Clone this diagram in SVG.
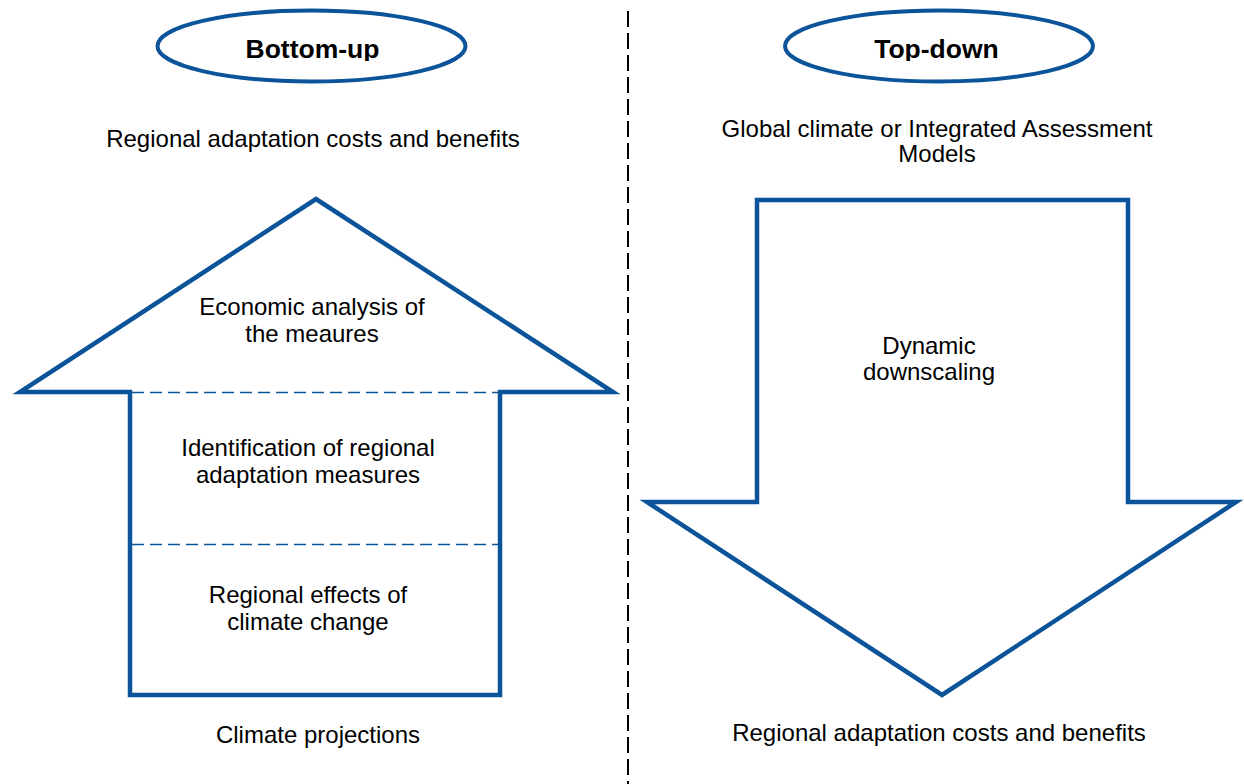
<svg xmlns="http://www.w3.org/2000/svg" width="1244" height="784" viewBox="0 0 1244 784">
  <style>
    .shape { fill: none; stroke: #0b5499; stroke-width: 4.5; stroke-linejoin: miter; }
    .oval { fill: none; stroke: #0b5499; stroke-width: 4; }
    .inner { fill: none; stroke: #0b5499; stroke-width: 1.6; stroke-dasharray: 12 6; }
    .divider { fill: none; stroke: #000; stroke-width: 2; stroke-dasharray: 16 6; }
    .t { font-family: "Liberation Sans", Arial, sans-serif; font-size: 24px; fill: #000; text-anchor: middle; }
    .title { font-family: "Liberation Sans", Arial, sans-serif; font-size: 26.5px; font-weight: bold; fill: #000; text-anchor: middle; }
  </style>
  <defs>
    <clipPath id="clipTitle"><rect x="0" y="0" width="1244" height="61"/></clipPath>
  </defs>
  <rect width="1244" height="784" fill="#fff"/>

  <g id="divider">
    <line class="divider" x1="628" y1="11" x2="628" y2="784"/>
  </g>

  <g id="bottom-up-title">
    <ellipse class="oval" cx="311.5" cy="46" rx="154" ry="35.5"/>
    <text class="title" x="312.5" y="58" clip-path="url(#clipTitle)">Bottom-up</text>
  </g>

  <g id="top-down-title">
    <ellipse class="oval" cx="939" cy="46" rx="154" ry="35.5"/>
    <text class="title" x="936.5" y="58" clip-path="url(#clipTitle)">Top-down</text>
  </g>

  <g id="left-top-label">
    <text class="t" x="313" y="147">Regional adaptation costs and benefits</text>
  </g>

  <g id="up-arrow">
    <path class="shape" d="M130,695 L130,392 L20,392 L316,199 L613,392 L500,392 L500,695 Z"/>
    <line class="inner" x1="132" y1="392.5" x2="498" y2="392.5"/>
    <line class="inner" x1="132" y1="544.5" x2="498" y2="544.5"/>
  </g>

  <g id="economic-analysis">
    <text class="t" x="312" y="315">Economic analysis of</text>
    <text class="t" x="312" y="342">the meaures</text>
  </g>

  <g id="identification">
    <text class="t" x="308" y="456">Identification of regional</text>
    <text class="t" x="308" y="483">adaptation measures</text>
  </g>

  <g id="regional-effects">
    <text class="t" x="308" y="603">Regional effects of</text>
    <text class="t" x="308" y="630">climate change</text>
  </g>

  <g id="climate-projections">
    <text class="t" x="318" y="743">Climate projections</text>
  </g>

  <g id="right-top-label">
    <text class="t" x="937" y="137">Global climate or Integrated Assessment</text>
    <text class="t" x="937" y="162">Models</text>
  </g>

  <g id="down-arrow">
    <path class="shape" d="M757,502 L757,200 L1128,200 L1128,502 L1236,502 L942,695 L647,502 Z"/>
  </g>

  <g id="dynamic-downscaling">
    <text class="t" x="929" y="354">Dynamic</text>
    <text class="t" x="929" y="380">downscaling</text>
  </g>

  <g id="right-bottom-label">
    <text class="t" x="939" y="741">Regional adaptation costs and benefits</text>
  </g>
</svg>
